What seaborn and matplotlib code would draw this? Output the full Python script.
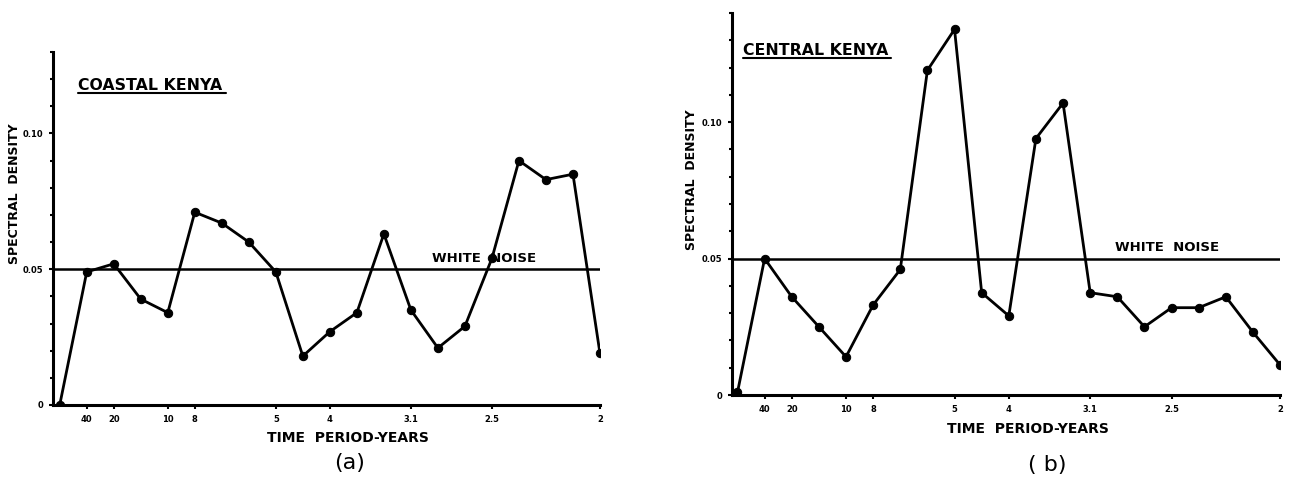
import numpy as np
import matplotlib
matplotlib.use("Agg")
import matplotlib.pyplot as plt
import seaborn as sns
from matplotlib.ticker import MultipleLocator

# frequency index k (period = 40/k years)
k = list(range(21))
coastal = [0.000, 0.049, 0.052, 0.039, 0.034, 0.071, 0.067, 0.060, 0.049, 0.018,
           0.027, 0.034, 0.063, 0.035, 0.021, 0.029, 0.054, 0.090, 0.083, 0.085, 0.019]
central = [0.001, 0.050, 0.036, 0.025, 0.014, 0.033, 0.046, 0.119, 0.134, 0.0375,
           0.029, 0.094, 0.107, 0.0375, 0.036, 0.025, 0.032, 0.032, 0.036, 0.023, 0.011]
white_noise = 0.05
tick_pos = [1, 2, 4, 5, 8, 10, 13, 16, 20]
tick_lab = ["40", "20", "10", "8", "5", "4", "3.1", "2.5", "2"]
ytick_pos = [0, 0.05, 0.10]
ytick_lab = ["0", "0.05", "0.10"]

sns.set_style("ticks")
plt.rcParams["font.family"] = ["DejaVu Sans"]
for key in ["text.color", "axes.labelcolor", "xtick.color", "ytick.color", "axes.edgecolor"]:
    plt.rcParams[key] = "black"

fig = plt.figure(figsize=(12.95, 4.87), dpi=100)
ax1 = fig.add_axes([0.0409, 0.1684, 0.4224, 0.7248])
ax2 = fig.add_axes([0.5653, 0.1889, 0.4232, 0.7844])

panels = [
    (ax1, coastal, "COASTAL KENYA", (-0.25, 20), 0.13, (0.046, 0.906, 0.316, 0.885), (13.8, 0.0515), -0.058, 0.60),
    (ax2, central, "CENTRAL KENYA", (-0.2, 20), 0.14, (0.020, 0.903, 0.290, 0.883), (13.9, 0.0515), -0.062, 0.563),
]

for ax, vals, title, xl, ytop, tpos, wpos, ylx, yly in panels:
    ax.axhline(white_noise, color="black", lw=1.8, zorder=1)
    sns.lineplot(x=k, y=vals, ax=ax, color="black", lw=2.0, marker="o",
                 markersize=6, markeredgecolor="black", zorder=3)
    ax.set_xlim(*xl)
    ax.set_ylim(0, ytop)
    ax.set_xticks(tick_pos)
    ax.set_xticklabels(tick_lab, fontsize=6, fontweight="bold")
    ax.set_yticks(ytick_pos)
    ax.set_yticklabels(ytick_lab, fontsize=6, fontweight="bold")
    ax.yaxis.set_minor_locator(MultipleLocator(0.01))
    ax.tick_params(axis="both", which="major", length=3, width=1.5, pad=4)
    ax.tick_params(axis="y", which="minor", length=2, width=1.5)
    sns.despine(ax=ax)
    for s in ["left", "bottom"]:
        ax.spines[s].set_linewidth(2.2)
    ax.set_xlabel("TIME  PERIOD-YEARS", fontsize=10, fontweight="bold")
    ax.xaxis.set_label_coords(0.539, -0.075 if ax is ax1 else -0.07)
    ax.set_ylabel("SPECTRAL  DENSITY", fontsize=9, fontweight="bold")
    ax.yaxis.set_label_coords(ylx, yly)
    ax.text(tpos[0], tpos[1], title, transform=ax.transAxes, fontsize=11.3,
            fontweight="bold", va="center", ha="left")
    ax.plot([tpos[0], tpos[2]], [tpos[3], tpos[3]], transform=ax.transAxes,
            color="black", lw=1.5, clip_on=False)
    ax.text(wpos[0], wpos[1], "WHITE  NOISE", fontsize=9.5, fontweight="bold",
            va="bottom", ha="left")

fig.text(350 / 1295, 1 - 463 / 487, "(a)", fontsize=16, ha="center", va="center")
fig.text(1047 / 1295, 1 - 465 / 487, "( b)", fontsize=16, ha="center", va="center")

plt.savefig("out.png", dpi=100)
plt.close()
